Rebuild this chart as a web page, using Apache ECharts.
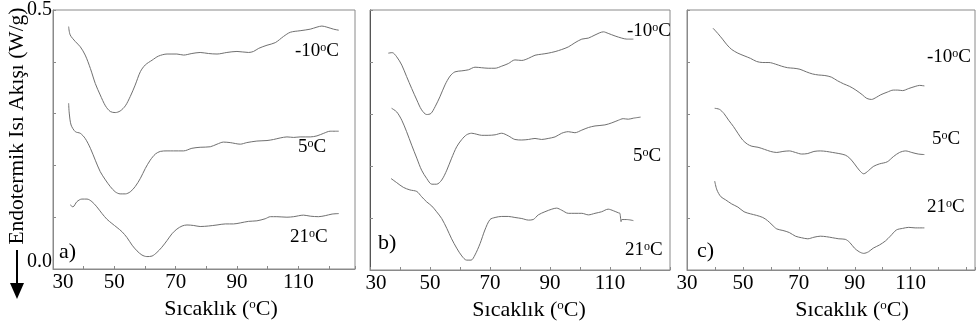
<!DOCTYPE html>
<html>
<head>
<meta charset="utf-8">
<script src="https://cdn.jsdelivr.net/npm/echarts@6/dist/echarts.min.js"></script>
<style>
  html, body { margin: 0; background: #fff; }
  #chart { width: 978px; height: 329px; }
</style>
</head>
<body>
<div id="chart"></div>
<script>
// temperature (°C), heat flow (W/g) pairs
const aM10 = [[35.1,0.468],[35.6,0.452],[37.3,0.439],[38.9,0.429],[40.5,0.413],[42.2,0.387],[43.8,0.358],[45.4,0.336],[47.1,0.315],[48.7,0.304],[50.3,0.302],[51.9,0.305],[53.6,0.315],[55.2,0.333],[56.8,0.355],[58.5,0.381],[60.1,0.394],[62.3,0.403],[64.4,0.411],[67.2,0.415],[70.4,0.415],[72.6,0.413],[75.3,0.416],[78.0,0.418],[80.7,0.416],[83.5,0.415],[86.7,0.418],[90.0,0.420],[93.8,0.418],[95.4,0.420],[97.1,0.426],[99.8,0.432],[102.5,0.437],[105.2,0.449],[107.4,0.457],[110.6,0.460],[113.9,0.463],[116.1,0.467],[117.7,0.469],[119.3,0.467],[121.5,0.463],[123.2,0.461]];
const a5 = [[35.1,0.320],[35.3,0.301],[35.9,0.278],[37.3,0.265],[38.9,0.262],[40.5,0.252],[42.2,0.233],[43.8,0.210],[45.4,0.188],[47.1,0.172],[48.7,0.159],[50.3,0.149],[51.9,0.145],[53.6,0.145],[55.2,0.149],[56.8,0.159],[58.5,0.175],[60.1,0.194],[61.7,0.210],[63.4,0.222],[65.0,0.227],[67.2,0.228],[69.3,0.228],[72.6,0.228],[75.3,0.233],[78.0,0.235],[81.3,0.236],[83.5,0.241],[85.6,0.245],[87.8,0.244],[91.1,0.241],[93.2,0.244],[96.5,0.247],[99.8,0.248],[101.9,0.250],[104.1,0.253],[106.3,0.255],[108.5,0.254],[110.6,0.255],[113.9,0.255],[116.1,0.257],[118.3,0.262],[120.4,0.266],[123.2,0.266]];
const a21 = [[35.6,0.124],[36.5,0.120],[37.8,0.130],[39.4,0.135],[41.1,0.135],[42.7,0.130],[44.3,0.120],[46.0,0.107],[47.6,0.096],[49.2,0.088],[50.9,0.080],[52.5,0.072],[54.1,0.061],[55.8,0.046],[57.4,0.035],[59.0,0.027],[60.6,0.024],[62.3,0.025],[63.9,0.032],[65.5,0.042],[67.2,0.055],[68.8,0.068],[70.4,0.077],[72.1,0.083],[73.7,0.085],[75.9,0.084],[78.0,0.082],[80.7,0.083],[83.5,0.085],[86.2,0.087],[88.9,0.087],[91.1,0.089],[93.8,0.092],[96.5,0.093],[99.2,0.097],[100.9,0.101],[103.0,0.101],[106.3,0.100],[108.5,0.101],[111.7,0.104],[113.9,0.102],[116.6,0.101],[118.8,0.103],[121.0,0.106],[123.2,0.107]];

const bM10 = [[36.1,0.417],[37.4,0.418],[38.9,0.410],[40.6,0.394],[42.2,0.372],[43.9,0.349],[45.6,0.327],[47.2,0.308],[48.9,0.299],[50.3,0.301],[51.7,0.314],[53.3,0.333],[55.0,0.356],[56.7,0.373],[58.3,0.381],[60.6,0.383],[62.8,0.385],[65.0,0.390],[67.2,0.389],[69.4,0.388],[71.7,0.388],[73.9,0.392],[76.1,0.397],[78.3,0.404],[80.6,0.403],[82.8,0.407],[85.0,0.413],[87.2,0.415],[89.4,0.417],[91.7,0.420],[93.9,0.424],[96.1,0.429],[98.3,0.437],[100.6,0.444],[102.8,0.446],[105.0,0.452],[107.8,0.458],[109.4,0.455],[111.7,0.450],[113.9,0.446],[115.6,0.444],[117.8,0.444]];
const b5 = [[37.2,0.311],[38.9,0.304],[40.6,0.288],[42.2,0.266],[43.9,0.240],[45.6,0.215],[47.2,0.192],[48.9,0.176],[50.6,0.165],[52.2,0.165],[53.9,0.173],[55.6,0.192],[57.2,0.215],[58.9,0.237],[60.6,0.251],[62.2,0.260],[63.9,0.263],[65.6,0.261],[67.2,0.259],[69.4,0.259],[71.7,0.260],[73.9,0.263],[76.1,0.258],[78.3,0.251],[80.6,0.250],[82.8,0.251],[85.0,0.253],[87.2,0.251],[89.4,0.253],[91.7,0.256],[93.9,0.263],[96.1,0.266],[98.3,0.264],[100.6,0.269],[102.8,0.274],[105.0,0.277],[108.3,0.279],[110.6,0.283],[112.8,0.288],[114.4,0.291],[116.1,0.290],[117.8,0.292],[120.2,0.294]];
const b21 = [[37.0,0.176],[38.9,0.168],[41.1,0.159],[43.3,0.154],[45.6,0.151],[47.2,0.141],[48.9,0.131],[50.6,0.123],[52.2,0.112],[53.9,0.099],[55.6,0.080],[57.2,0.060],[58.9,0.042],[60.6,0.027],[62.2,0.019],[63.7,0.019],[65.0,0.029],[66.7,0.051],[68.3,0.077],[70.0,0.097],[71.7,0.101],[73.9,0.103],[76.1,0.103],[78.3,0.101],[80.6,0.099],[82.8,0.096],[84.4,0.097],[86.1,0.106],[88.3,0.112],[90.6,0.117],[92.2,0.119],[93.9,0.115],[96.1,0.109],[98.3,0.109],[100.6,0.109],[102.8,0.106],[105.0,0.109],[107.2,0.112],[109.4,0.117],[111.1,0.114],[112.8,0.110],[113.3,0.109],[113.7,0.093],[113.9,0.097],[115.6,0.097],[117.8,0.095]];

const cM10 = [[39.3,0.465],[41.0,0.455],[42.7,0.444],[44.3,0.433],[46.0,0.424],[48.2,0.417],[50.4,0.412],[52.7,0.407],[54.9,0.401],[57.1,0.399],[59.3,0.399],[61.6,0.396],[63.8,0.392],[66.0,0.389],[68.2,0.388],[70.4,0.386],[72.7,0.381],[74.9,0.377],[77.1,0.375],[79.3,0.374],[81.6,0.371],[83.8,0.364],[86.0,0.358],[88.2,0.353],[90.4,0.346],[92.7,0.337],[94.3,0.330],[96.0,0.328],[97.7,0.332],[99.3,0.337],[101.6,0.342],[103.8,0.346],[105.4,0.346],[107.1,0.345],[109.3,0.349],[111.6,0.353],[113.2,0.355],[114.9,0.354]];
const c5 = [[39.9,0.311],[41.6,0.309],[43.2,0.301],[44.9,0.288],[46.6,0.276],[48.2,0.263],[49.9,0.250],[51.6,0.242],[53.2,0.238],[55.4,0.236],[57.7,0.232],[59.9,0.228],[62.1,0.226],[64.3,0.228],[66.6,0.229],[68.8,0.226],[71.0,0.223],[73.2,0.224],[75.4,0.228],[77.7,0.229],[79.9,0.228],[82.1,0.226],[84.3,0.224],[86.6,0.221],[88.2,0.215],[89.9,0.204],[91.6,0.192],[93.2,0.185],[94.9,0.191],[96.6,0.199],[98.8,0.204],[101.6,0.208],[103.8,0.218],[106.0,0.226],[108.2,0.229],[110.4,0.226],[112.7,0.223],[114.9,0.222]];
const c21 = [[39.9,0.171],[40.7,0.154],[42.1,0.141],[43.8,0.135],[46.0,0.127],[48.2,0.121],[50.4,0.112],[52.7,0.108],[54.9,0.105],[57.1,0.101],[58.8,0.095],[60.4,0.087],[62.1,0.079],[64.3,0.076],[66.6,0.072],[68.8,0.065],[71.0,0.062],[73.2,0.060],[75.4,0.063],[77.7,0.065],[79.9,0.064],[82.1,0.062],[84.3,0.060],[86.6,0.059],[88.2,0.053],[89.9,0.042],[91.6,0.035],[93.2,0.032],[94.9,0.035],[96.6,0.042],[98.8,0.048],[101.0,0.056],[102.7,0.065],[104.9,0.077],[107.1,0.080],[109.3,0.082],[111.6,0.081],[113.2,0.081],[114.9,0.081]];

const xTickLabels = [30, 50, 70, 90, 110];
const yTickLabels = [0, 0.5];
const panelNames = ['a)', 'b)', 'c)'];
const seriesNames = ['-10{s|o}C', '5{s|o}C', '21{s|o}C'];

const FONT = 'Liberation Serif';
const AXIS = '#8a8a8a';
const LINE = '#707070';

const chart = echarts.init(document.getElementById('chart'));

const grids = [
  { left: 53, top: 10, width: 302, height: 259 },
  { left: 370, top: 10, width: 300, height: 260 },
  { left: 687, top: 10, width: 310, height: 260 }
].map((g) => Object.assign(g, { show: true, borderColor: AXIS, borderWidth: 1, backgroundColor: 'transparent' }));

const xMax = [128.5, 130, 133];
const firstShift = [20, 12, 0];
const namePad = [34, 18, 42];

const xAxes = [0, 1, 2].map((i) => ({
  type: 'value',
  gridIndex: i,
  min: 30,
  max: xMax[i],
  interval: 10,
  name: 'Sıcaklık ({s|o}C)',
  nameLocation: 'middle',
  nameGap: 26,
  nameTextStyle: {
    fontFamily: FONT, fontSize: 22, color: '#000',
    padding: [0, 0, 0, namePad[i]],
    rich: { s: { fontFamily: FONT, fontSize: 13, verticalAlign: 'top', color: '#000' } }
  },
  axisLine: { lineStyle: { color: AXIS, width: 1 } },
  axisTick: { inside: true, length: 3, lineStyle: { color: AXIS } },
  splitLine: { show: false },
  axisLabel: {
    margin: 3,
    fontFamily: FONT, fontSize: 21, color: '#000',
    formatter: (v) => {
      if (xTickLabels.indexOf(v) < 0) return '';
      return v === 30 ? '{f|30}' : String(v);
    },
    rich: { f: { fontFamily: FONT, fontSize: 21, color: '#000', padding: [0, 0, 0, firstShift[i]] } }
  }
}));

const yAxes = [0, 1, 2].map((i) => ({
  type: 'value',
  gridIndex: i,
  min: 0,
  max: 0.5,
  interval: 0.1,
  axisLine: { show: true, lineStyle: { color: i === 1 ? '#555' : AXIS, width: 1 } },
  axisTick: { show: true, inside: true, length: 3, lineStyle: { color: AXIS } },
  splitLine: { show: false },
  axisLabel: {
    show: i === 0,
    margin: 1,
    fontFamily: FONT, fontSize: 20, color: '#000',
    formatter: (v) => {
      if (v === yTickLabels[0]) return '{lo|0.0}';
      if (v === yTickLabels[1]) return '0.5';
      return '';
    },
    rich: { lo: { fontFamily: FONT, fontSize: 20, color: '#000', padding: [0, 0, 14, 0] } }
  }
}));

const curves = [[aM10, a5, a21], [bM10, b5, b21], [cM10, c5, c21]];
const series = [];
curves.forEach((set, i) => {
  set.forEach((d, j) => {
    series.push({
      type: 'line',
      name: panelNames[i] + ' ' + seriesNames[j],
      xAxisIndex: i,
      yAxisIndex: i,
      data: d,
      smooth: 0.3,
      showSymbol: false,
      silent: true,
      lineStyle: { color: LINE, width: 1 }
    });
  });
});

// label spots for the curve names and panel tags
const tagPos = [[59, 252], [378, 243], [697, 251]];
const namePos = [
  [[295, 51], [298, 147], [290, 237]],
  [[627, 31], [633, 156], [625, 250]],
  [[927, 57], [932, 139], [927, 207]]
];
const sup = { s: { fontFamily: FONT, fontSize: 12, verticalAlign: 'top', fill: '#000' } };

const graphic = [];
namePos.forEach((pp, i) => {
  pp.forEach((p, j) => {
    graphic.push({
      type: 'text', x: p[0], y: p[1], silent: true,
      style: { text: seriesNames[j], fontFamily: FONT, fontSize: 19, fill: '#000', align: 'left', verticalAlign: 'middle', rich: sup }
    });
  });
  graphic.push({
    type: 'text', x: tagPos[i][0], y: tagPos[i][1], silent: true,
    style: { text: panelNames[i], fontFamily: FONT, fontSize: 22, fill: '#000', align: 'left', verticalAlign: 'middle' }
  });
});
// y axis title, rotated
graphic.push({
  type: 'text', x: 17, y: 126, rotation: Math.PI / 2, silent: true,
  style: { text: 'Endotermik Isı Akışı (W/g)', fontFamily: FONT, fontSize: 21.5, fill: '#000', align: 'center', verticalAlign: 'middle' }
});
// endothermic arrow
graphic.push({
  type: 'line', silent: true,
  shape: { x1: 17, y1: 250, x2: 17, y2: 285 },
  style: { stroke: '#000', lineWidth: 2 }
});
graphic.push({
  type: 'polygon', silent: true,
  shape: { points: [[10, 283], [24, 283], [17, 299]] },
  style: { fill: '#000' }
});

const option = {
  animation: false,
  backgroundColor: '#fff',
  grid: grids,
  xAxis: xAxes,
  yAxis: yAxes,
  series: series,
  graphic: graphic
};

option && chart.setOption(option);
window.addEventListener('resize', () => {
  chart.resize();
});
</script>
</body>
</html>
